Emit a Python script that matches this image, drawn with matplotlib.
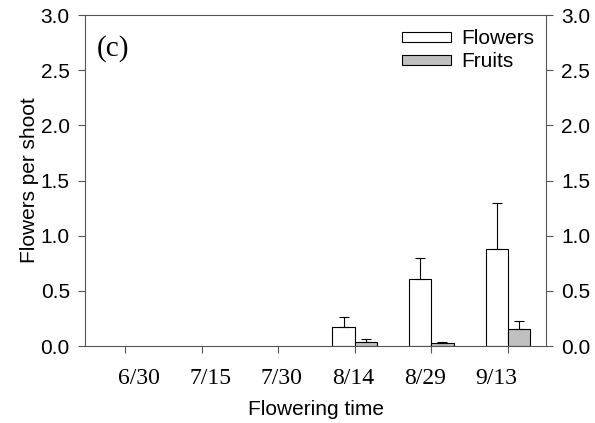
import numpy as np
import matplotlib.pyplot as plt

# flowering dates and means (+ upper error) per shoot
dates = ['6/30', '7/15', '7/30', '8/14', '8/29', '9/13']
flowers = [0, 0, 0, 0.175, 0.61, 0.88]
flowers_err = [0, 0, 0, 0.085, 0.185, 0.42]
fruits = [0, 0, 0, 0.04, 0.03, 0.15]
fruits_err = [0, 0, 0, 0.025, 0.008, 0.08]

x = np.arange(len(dates))
w = 0.29

fig = plt.figure(figsize=(5.95, 4.23), dpi=100)
ax = fig.add_axes([0.143, 0.182, 0.775, 0.7825])

has = np.array(flowers) > 0
ax.bar(x[has] - w/2, np.array(flowers)[has], w, color='white', edgecolor='black',
       linewidth=0.8, label='Flowers')
ax.bar(x[has] + w/2, np.array(fruits)[has], w, color='#c0c0c0', edgecolor='black',
       linewidth=0.8, label='Fruits')
ax.errorbar(x[has] - w/2, np.array(flowers)[has],
            yerr=[np.zeros(has.sum()), np.array(flowers_err)[has]],
            fmt='none', ecolor='black', elinewidth=0.8, capsize=3.5, capthick=0.8)
ax.errorbar(x[has] + w/2, np.array(fruits)[has],
            yerr=[np.zeros(has.sum()), np.array(fruits_err)[has]],
            fmt='none', ecolor='black', elinewidth=0.8, capsize=3.5, capthick=0.8)

ax.set_xlim(-0.52, 5.50)
ax.set_ylim(0, 3.0)
ax.set_yticks(np.arange(0, 3.01, 0.5))
ax.set_yticklabels(['%.1f' % v for v in np.arange(0, 3.01, 0.5)],
                   family='Liberation Sans', fontsize=15)
ax.tick_params(axis='y', direction='out', length=5, width=0.8, pad=6,
               right=True, labelright=True, color='#555555')

# tick marks at the bar pairs, labels placed a little apart (as in the original)
ax.set_xticks(x)
ax.set_xticklabels([''] * len(dates))
ax.tick_params(axis='x', which='major', direction='out', length=5, width=0.8, color='#555555')
ax.set_xticks(0.18 + 0.933 * x, minor=True)
ax.set_xticklabels(dates, minor=True, family='Liberation Serif', fontsize=17)
ax.tick_params(axis='x', which='minor', length=0, pad=16)

for s in ax.spines.values():
    s.set_linewidth(0.8)
    s.set_color('#555555')

ax.set_ylabel('Flowers per shoot', family='Liberation Sans', fontsize=15, labelpad=1)
ax.set_xlabel('Flowering time', family='Liberation Sans', fontsize=15, labelpad=8)
ax.text(0.025, 0.90, '(c)', transform=ax.transAxes, family='Liberation Serif',
        fontsize=21, va='center')
ax.legend(loc='upper right', bbox_to_anchor=(0.974, 0.957), frameon=False,
          prop={'family': 'Liberation Sans', 'size': 15},
          handlelength=2.35, handleheight=0.4, handletextpad=0.5,
          labelspacing=0.2, borderaxespad=0, borderpad=0)

fig.savefig('out.png', dpi=100)
